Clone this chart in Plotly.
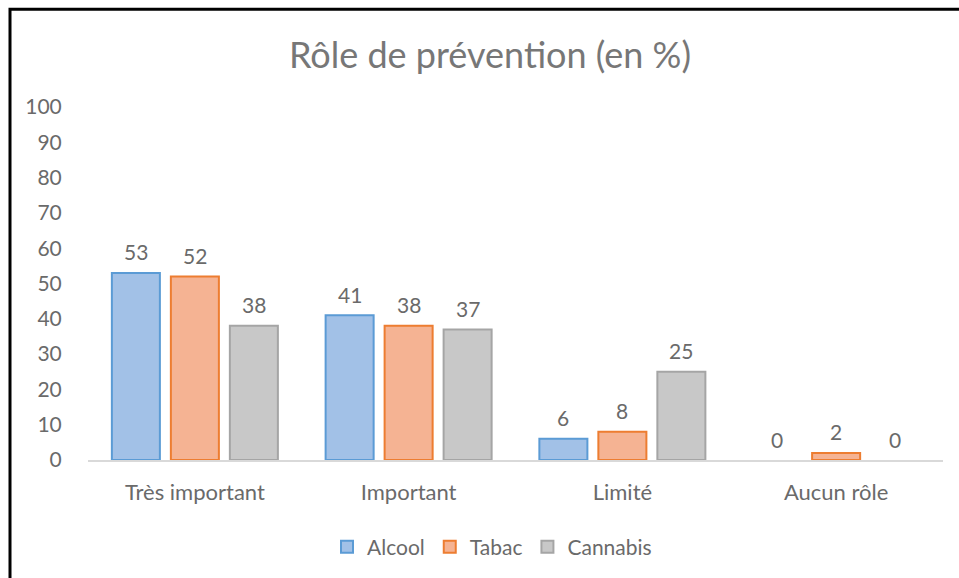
import plotly.graph_objects as go

categories = ["Très important", "Important", "Limité", "Aucun rôle"]
alcool = [53, 41, 6, 0]
tabac = [52, 38, 8, 2]
cannabis = [38, 37, 25, 0]

series = [
    ("Alcool", alcool, "#a2c1e7", "#5b9bd5"),
    ("Tabac", tabac, "#f5b393", "#ed7d31"),
    ("Cannabis", cannabis, "#c8c8c8", "#a5a5a5"),
]

FONT = "Lato"
GREY = "#6a6a6a"

fig = go.Figure()
for i, (name, vals, fill, edge) in enumerate(series):
    fig.add_trace(go.Bar(
        x=categories, y=vals, name=name,
        marker=dict(color=fill,
                    line=dict(color=edge, width=[2 if v > 0 else 0 for v in vals])),
    ))
    # data labels, placed above each bar of the group
    for cat, v in zip(categories, vals):
        fig.add_annotation(x=cat, y=v, text=str(v), showarrow=False,
                           xshift=(i - 1) * 59, yshift=21, yanchor="middle",
                           font=dict(family=FONT, size=21, color=GREY))

# plot area in pixels: x 88..943, y 107..461
L, R, T, B = 88, 16, 107, 117
pw, ph = 959 - L - R, 578 - T - B

def px(x):
    return (x - L) / pw

def py(y):
    return (578 - B - y) / ph

# outer chart border (only top and left edges fall inside the picture)
fig.add_shape(type="rect", xref="paper", yref="paper",
              x0=px(10), x1=px(975), y0=py(595), y1=py(9),
              line=dict(color="black", width=3), layer="below")

fig.update_layout(
    width=959, height=578,
    margin=dict(l=L, r=R, t=T, b=B),
    paper_bgcolor="white", plot_bgcolor="white",
    barmode="group", bargap=0.172, bargroupgap=0.186,
    title=dict(text="Rôle de prévention (en %)", x=490 / 959, xanchor="center",
               y=1 - 55 / 578, yanchor="middle",
               font=dict(family=FONT, size=36, color="#777777")),
    font=dict(family=FONT, color=GREY),
    xaxis=dict(showgrid=False, showline=True, linecolor="#d9d9d9", linewidth=1.5,
               ticks="outside", ticklen=12, tickcolor="rgba(0,0,0,0)",
               tickfont=dict(family=FONT, size=22, color=GREY)),
    yaxis=dict(range=[0, 100], dtick=10, showgrid=False, zeroline=False,
               showline=False, ticks="outside", ticklen=21, tickcolor="rgba(0,0,0,0)",
               tickfont=dict(family=FONT, size=21, color=GREY)),
    legend=dict(orientation="h", x=px(492), xanchor="center", y=py(547), yanchor="middle",
                font=dict(family=FONT, size=21, color=GREY), itemwidth=30,
                traceorder="normal"),
)

fig.write_html("out.html", config={"displayModeBar": False},
               post_script="document.body.style.margin='0';"
                           "document.body.style.overflow='hidden';")
